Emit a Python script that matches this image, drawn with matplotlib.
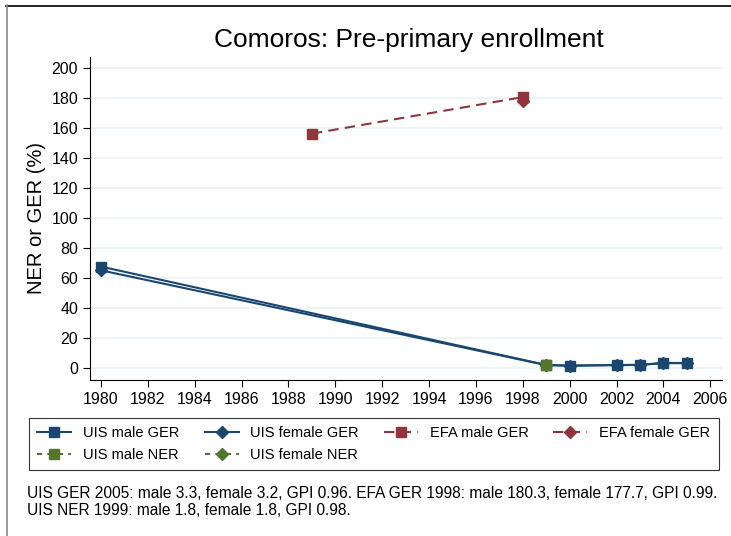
import matplotlib.pyplot as plt
from matplotlib.lines import Line2D

plt.rcParams['font.family'] = ['Liberation Sans', 'DejaVu Sans']

uis_years = [1980, 1999, 2000, 2002, 2003, 2004, 2005]
uis_male_ger = [67.5, 2.0, 1.6, 2.0, 2.1, 3.4, 3.3]
uis_female_ger = [65.0, 1.9, 1.5, 1.9, 2.0, 3.2, 3.2]
efa_male_years = [1989, 1998]
efa_male_ger = [156.0, 180.3]
efa_female_years = [1998]
efa_female_ger = [177.7]
ner_years = [1999]
uis_male_ner = [1.8]
uis_female_ner = [1.8]

navy = '#1a476f'
maroon = '#90353b'
green = '#55752f'
dash_long = (0, (5, 3))
dash_short = (0, (2.5, 2.5))

fig = plt.figure(figsize=(7.31, 5.36), dpi=100)

# outer frame lines (top black, left grey)
fig.add_artist(Line2D([6/731, 1], [1-5.5/536, 1-5.5/536], color='black', lw=1.2))
fig.add_artist(Line2D([6.5/731, 6.5/731], [0, 1-5/536], color='#888888', lw=1.2))

ax = fig.add_axes([90/731, 1-380/536, 632/731, 323/536])

ax.plot(uis_years, uis_male_ger, color=navy, lw=1.5, marker='s', ms=6.5)
ax.plot(uis_years, uis_female_ger, color=navy, lw=1.5, marker='D', ms=6.5)
ax.plot(efa_male_years, efa_male_ger, color=maroon, lw=1.5, ls=dash_long, marker='s', ms=6.5)
ax.plot(efa_female_years, efa_female_ger, color=maroon, lw=1.5, ls=dash_long, marker='D', ms=6.5)
ax.plot(ner_years, uis_male_ner, color=green, lw=1.5, ls=dash_short, marker='s', ms=6.5)
ax.plot(ner_years, uis_female_ner, color=green, lw=1.5, ls=dash_short, marker='D', ms=6.5)

ax.set_xlim(1979.53, 2006.5)
ax.set_ylim(-8, 207)
ax.set_xticks(range(1980, 2007, 2))
ax.set_yticks(range(0, 201, 20))
ax.grid(axis='y', color='#eaf2f3', lw=1.2)
ax.set_axisbelow(True)
for s in ['top', 'right']:
    ax.spines[s].set_visible(False)
ax.tick_params(labelsize=11.5, length=5)
ax.set_ylabel('NER or GER (%)', fontsize=14.5, labelpad=4)

fig.text(409/731, 1-40/536, 'Comoros: Pre-primary enrollment', ha='center', va='center', fontsize=19)

h = [
    Line2D([], [], color=navy, lw=1.5, marker='s', ms=6.5),
    Line2D([], [], color=navy, lw=1.5, marker='D', ms=6.5),
    Line2D([], [], color=maroon, lw=1.5, ls=dash_long, marker='s', ms=6.5),
    Line2D([], [], color=maroon, lw=1.5, ls=dash_long, marker='D', ms=6.5),
    Line2D([], [], color=green, lw=1.5, ls=dash_short, marker='s', ms=6.5),
    Line2D([], [], color=green, lw=1.5, ls=dash_short, marker='D', ms=6.5),
]
labels = ['UIS male GER', 'UIS female GER', 'EFA male GER', 'EFA female GER',
          'UIS male NER', 'UIS female NER']
blank = Line2D([], [], color='none')
order_h = [h[0], h[4], h[1], h[5], h[2], blank, h[3], blank]
order_l = [labels[0], labels[4], labels[1], labels[5], labels[2], '', labels[3], '']
leg = fig.legend(order_h, order_l, ncol=4, loc='center', bbox_to_anchor=(374/731, 1-444/536),
                 fontsize=10.5, frameon=True, fancybox=False, edgecolor='black',
                 columnspacing=1.7, handlelength=2.33, handletextpad=0.82, borderpad=0.55,
                 labelspacing=0.6)
leg.get_frame().set_linewidth(0.8)

fig.text(27/731, 1-502/536,
         'UIS GER 2005: male 3.3, female 3.2, GPI 0.96. EFA GER 1998: male 180.3, female 177.7, GPI 0.99.\n'
         'UIS NER 1999: male 1.8, female 1.8, GPI 0.98.',
         ha='left', va='center', fontsize=11.2, linespacing=1.1)

fig.savefig('out.png', dpi=100)
